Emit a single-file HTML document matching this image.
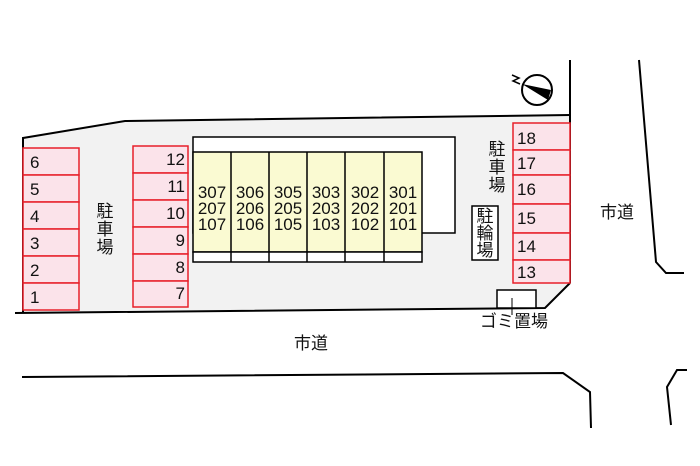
<!DOCTYPE html>
<html><head><meta charset="utf-8"><style>
body{margin:0;background:#fff}
svg{display:block}
text{font-family:"Liberation Sans","Noto Sans CJK JP",sans-serif;fill:#111}
.n{font-size:17px}
.j{font-size:17px;font-family:"Noto Sans CJK JP",sans-serif}
</style></head><body>
<svg width="700" height="466" viewBox="0 0 700 466" xmlns="http://www.w3.org/2000/svg">
<polygon points="23,138 125,121 570,115 570,283 545,308 23,313" fill="#f2f2f2"/>
<polyline points="23,313 23,138 125,121 570,115" fill="none" stroke="#000" stroke-width="2"/>
<line x1="570" y1="60" x2="570" y2="283" stroke="#000" stroke-width="2"/>
<polyline points="570,283 545,308 15,313" fill="none" stroke="#000" stroke-width="2"/>
<rect x="193" y="137" width="262" height="96" fill="#fff" stroke="#000" stroke-width="1.5"/>
<rect x="193" y="152" width="229" height="100" fill="#fafad2" stroke="#000" stroke-width="1.5"/>
<rect x="193" y="252" width="229" height="10" fill="#fff" stroke="#000" stroke-width="1.5"/>
<g stroke="#000" stroke-width="1.5">
<line x1="231" y1="152" x2="231" y2="262"/><line x1="269" y1="152" x2="269" y2="262"/>
<line x1="307" y1="152" x2="307" y2="262"/><line x1="345" y1="152" x2="345" y2="262"/>
<line x1="384" y1="152" x2="384" y2="262"/></g>
<g class="n" text-anchor="middle">
<text x="212" y="198">307</text><text x="212" y="214">207</text><text x="212" y="230">107</text>
<text x="250" y="198">306</text><text x="250" y="214">206</text><text x="250" y="230">106</text>
<text x="288" y="198">305</text><text x="288" y="214">205</text><text x="288" y="230">105</text>
<text x="326" y="198">303</text><text x="326" y="214">203</text><text x="326" y="230">103</text>
<text x="365" y="198">302</text><text x="365" y="214">202</text><text x="365" y="230">102</text>
<text x="403" y="198">301</text><text x="403" y="214">201</text><text x="403" y="230">101</text>
</g>
<g fill="#fbe3ea" stroke="#e8202a" stroke-width="1.5">
<rect x="23" y="148" width="56" height="27"/><rect x="23" y="175" width="56" height="27"/>
<rect x="23" y="202" width="56" height="27"/><rect x="23" y="229" width="56" height="27"/>
<rect x="23" y="256" width="56" height="27"/><rect x="23" y="283" width="56" height="27"/>
<rect x="133" y="146" width="55" height="27"/><rect x="133" y="173" width="55" height="27"/>
<rect x="133" y="200" width="55" height="27"/><rect x="133" y="227" width="55" height="27"/>
<rect x="133" y="254" width="55" height="27"/><rect x="133" y="281" width="55" height="26"/>
<rect x="513" y="123" width="57" height="27"/><rect x="513" y="150" width="57" height="25"/>
<rect x="513" y="175" width="57" height="29"/><rect x="513" y="204" width="57" height="29"/>
<rect x="513" y="233" width="57" height="27"/><rect x="513" y="260" width="57" height="23"/>
</g>
<g class="n">
<text x="30" y="168">6</text><text x="30" y="195">5</text><text x="30" y="222">4</text>
<text x="30" y="249">3</text><text x="30" y="276">2</text><text x="30" y="303">1</text>
<text x="517" y="144">18</text><text x="517" y="169">17</text><text x="517" y="195">16</text>
<text x="517" y="224">15</text><text x="517" y="252">14</text><text x="517" y="278">13</text>
</g>
<g class="n" text-anchor="end">
<text x="185" y="165">12</text><text x="185" y="192">11</text><text x="185" y="219">10</text>
<text x="185" y="246">9</text><text x="185" y="273">8</text><text x="185" y="299">7</text>
</g>
<g class="j" text-anchor="middle">
<text x="105" y="217">駐</text><text x="105" y="235">車</text><text x="105" y="253">場</text>
<text x="497" y="155">駐</text><text x="497" y="173">車</text><text x="497" y="191">場</text>
</g>
<rect x="472" y="206" width="26" height="54" fill="#fff" stroke="#000" stroke-width="1.5"/>
<g class="j" text-anchor="middle">
<text x="485" y="222">駐</text><text x="485" y="239">輪</text><text x="485" y="256">場</text>
</g>
<rect x="497" y="290" width="39" height="18" fill="#fff" stroke="#000" stroke-width="1.5"/>
<line x1="512" y1="298" x2="512" y2="315" stroke="#000" stroke-width="1"/>
<text class="j" x="480" y="327">ゴミ置場</text>
<text class="j" x="294" y="349">市道</text>
<text class="j" x="600" y="218">市道</text>
<g fill="none" stroke="#000" stroke-width="2">
<polyline points="22,377 563,373 590,392 591,428"/>
<polyline points="639,60 656,262 666,273 684,273"/>
<polyline points="687,370 677,370 667,387 671,425"/>
</g>
<circle cx="537" cy="90" r="15" fill="#fff" stroke="#000" stroke-width="2"/>
<polygon points="522,84 551,90 548,100" fill="#000"/>
<polyline points="512,75 519,78 513,81 520,84" fill="none" stroke="#000" stroke-width="1.5"/>
</svg>
</body></html>
